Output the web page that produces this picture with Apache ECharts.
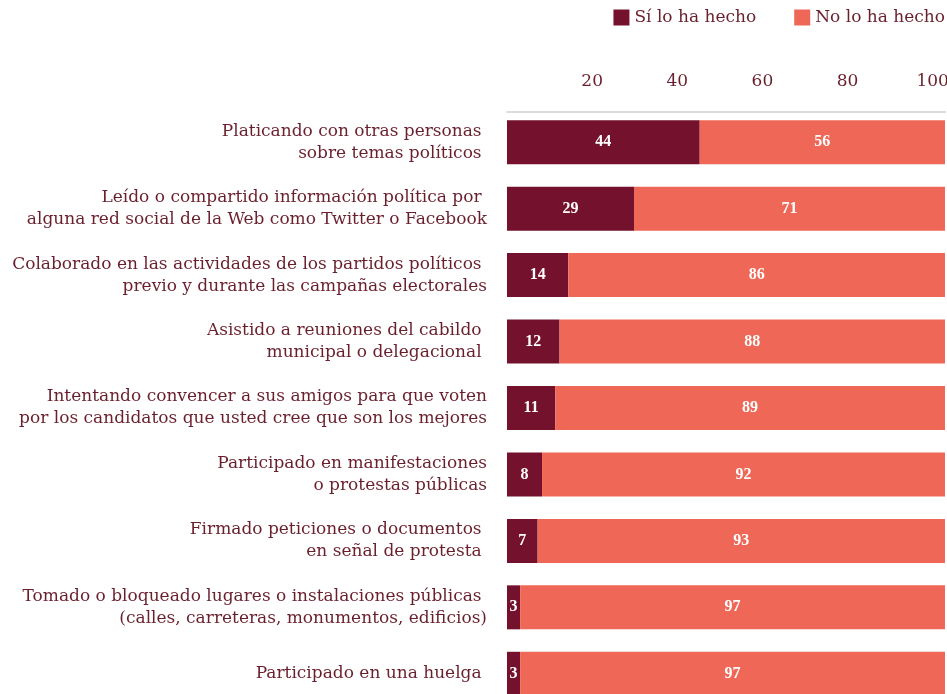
<!DOCTYPE html>
<html>
<head>
<meta charset="utf-8">
<script src="https://cdn.jsdelivr.net/npm/echarts@6/dist/echarts.min.js"></script>
<style>
  html, body { margin: 0; padding: 0; background: #fff; }
  #chart { width: 947px; height: 694px; }
</style>
</head>
<body>
<div id="chart"></div>
<script>
// categories (trailing spaces kept where the original lines end short)
const categories = [
  'Platicando con otras personas \nsobre temas políticos ',
  'Leído o compartido información política por \nalguna red social de la Web como Twitter o Facebook',
  'Colaborado en las actividades de los partidos políticos \nprevio y durante las campañas electorales',
  'Asistido a reuniones del cabildo \nmunicipal o delegacional ',
  'Intentando convencer a sus amigos para que voten\npor los candidatos que usted cree que son los mejores',
  'Participado en manifestaciones\no protestas públicas',
  'Firmado peticiones o documentos \nen señal de protesta ',
  'Tomado o bloqueado lugares o instalaciones públicas \n(calles, carreteras, monumentos, edificios)',
  'Participado en una huelga '
]
const siValues = [44, 29, 14, 12, 11, 8, 7, 3, 3]
const noValues = [56, 71, 86, 88, 89, 92, 93, 97, 97]
const xTicks = [20, 40, 60, 80, 100]

const TEXT = '#6a1f2d'
const DARK = '#74122d'
const SALMON = '#ef6857'
const FONT = '"DejaVu Serif", serif'

const chart = echarts.init(document.getElementById('chart'))

const barLabel = {
  show: true,
  position: 'inside',
  color: '#fff',
  fontFamily: '"Liberation Serif", serif',
  fontWeight: 'bold',
  fontSize: 16
}

chart.setOption({
  animation: false,
  legend: {
    right: -3,
    top: 4,
    itemWidth: 16,
    itemHeight: 16,
    itemGap: 38,
    icon: 'rect',
    textStyle: { color: TEXT, fontFamily: FONT, fontSize: 17 },
    data: ['Sí lo ha hecho', 'No lo ha hecho']
  },
  grid: {
    left: 507,
    right: 2,
    top: 109,
    height: 598,
    outerBoundsMode: 'none'
  },
  xAxis: [
    {
      type: 'value',
      min: 0,
      max: 100,
      show: false
    },
    {
      // label axis: the original tick labels sit on a slightly tighter scale
      type: 'value',
      position: 'top',
      min: 0,
      max: 102.9,
      interval: 20,
      offset: -3,
      axisLine: { show: true, lineStyle: { color: '#dcdcdc', width: 2 } },
      axisTick: { show: false },
      splitLine: { show: false },
      axisLabel: {
        margin: 22,
        color: TEXT,
        fontFamily: FONT,
        fontSize: 17,
        formatter: v => (xTicks.includes(v) ? String(v) : '')
      }
    }
  ],
  yAxis: {
    type: 'category',
    inverse: true,
    data: categories,
    axisLine: { show: false },
    axisTick: { show: false },
    axisLabel: {
      margin: 20,
      color: TEXT,
      fontFamily: FONT,
      fontSize: 17,
      lineHeight: 22
    }
  },
  series: [
    {
      name: 'Sí lo ha hecho',
      type: 'bar',
      stack: 'total',
      xAxisIndex: 0,
      barWidth: 44,
      itemStyle: { color: DARK },
      label: barLabel,
      data: siValues
    },
    {
      name: 'No lo ha hecho',
      type: 'bar',
      stack: 'total',
      xAxisIndex: 0,
      barWidth: 44,
      itemStyle: { color: SALMON },
      label: barLabel,
      data: noValues
    }
  ]
})
</script>
</body>
</html>
